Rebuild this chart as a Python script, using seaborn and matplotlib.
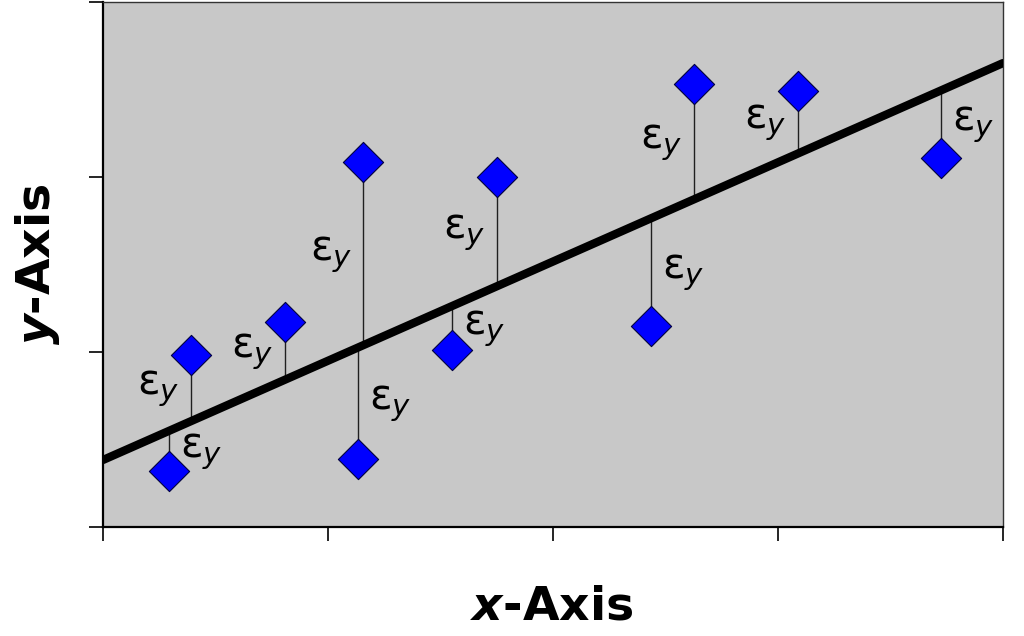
import matplotlib
matplotlib.use("Agg")
import matplotlib.pyplot as plt
import seaborn as sns
import pandas as pd
import numpy as np

# ---- data (axis units: x 0..4, y 0..3) ----
point_x = [0.293, 0.391, 0.809, 1.156, 1.133, 1.551, 1.751, 2.436, 2.627, 3.089, 3.724]
point_y = [0.320, 0.983, 1.171, 2.086, 0.389, 1.011, 2.000, 1.149, 2.531, 2.491, 2.109]
label_side = ["right", "left", "left", "left", "right", "right", "left", "right", "left", "left", "right"]
line_x = [0.0, 4.0]
line_y = [0.383, 2.651]
x_ticks = [0, 1, 2, 3, 4]
y_ticks = [0, 1, 2, 3]
x_label = "x-Axis"
y_label = "y-Axis"
residual_label = "ε"

sns.set_theme(style="white")
plt.rcParams["font.family"] = ["DejaVu Sans"]
plt.rcParams["mathtext.fontset"] = "dejavusans"

fig = plt.figure(figsize=(10.24, 6.36), dpi=100)
ax = fig.add_axes([103 / 1024, 109 / 636, 900 / 1024, 525 / 636])
ax.set_facecolor("#c8c8c8")

slope = (line_y[1] - line_y[0]) / (line_x[1] - line_x[0])
fit_y = [line_y[0] + slope * (x - line_x[0]) for x in point_x]

# residual stems
for x, y, f in zip(point_x, point_y, fit_y):
    ax.plot([x, x], [y, f], color="#202020", lw=1.0, zorder=2)

# regression line
line_df = pd.DataFrame({"x": line_x, "y": line_y})
sns.lineplot(data=line_df, x="x", y="y", ax=ax, color="black", lw=6.0, zorder=3)

# points
pts = pd.DataFrame({"x": point_x, "y": point_y})
sns.scatterplot(data=pts, x="x", y="y", ax=ax, marker="D", s=420,
                color="#0000ff", edgecolor="#000040", linewidth=0.8, zorder=4)

# epsilon labels
for x, y, f, side in zip(point_x, point_y, fit_y, label_side):
    mid = (y + f) / 2
    dx = 8 if side == "right" else -8
    ax.annotate(residual_label + r"$_{y}$", xy=(x, mid), xytext=(dx, 0),
                textcoords="offset points", ha="left" if side == "right" else "right",
                va="center", fontsize=30, color="black", zorder=5)

ax.set_xlim(0, 4)
ax.set_ylim(0, 3)
ax.set_xticks(x_ticks)
ax.set_yticks(y_ticks)
ax.set_xticklabels([])
ax.set_yticklabels([])
ax.tick_params(axis="both", direction="out", length=10, width=1.2, color="black",
               bottom=True, left=True)
for name, sp in ax.spines.items():
    sp.set_visible(True)
    sp.set_color("black" if name in ("left", "bottom") else "#333333")
    sp.set_linewidth(1.6 if name in ("left", "bottom") else 1.0)

ax.set_xlabel("")
ax.set_ylabel("")
fig.text(552 / 1024, 1 - 607 / 636, r"$\boldsymbol{x}$-Axis", fontsize=34,
         fontweight="bold", color="black", ha="center", va="center")
fig.text(38 / 1024, 1 - 264 / 636, r"$\boldsymbol{y}$-Axis", fontsize=34,
         fontweight="bold", color="black", ha="center", va="center", rotation=90)

fig.savefig("out.png", dpi=100)
